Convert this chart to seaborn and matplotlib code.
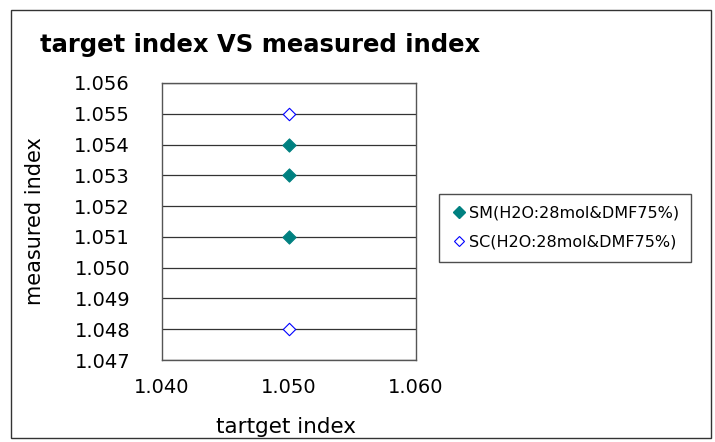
import matplotlib
matplotlib.use("Agg")
import matplotlib.pyplot as plt
import seaborn as sns
import pandas as pd
from matplotlib.patches import Rectangle
from matplotlib.lines import Line2D

sm_x = [1.050, 1.050, 1.050]
sm_y = [1.054, 1.053, 1.051]
sc_x = [1.050, 1.050]
sc_y = [1.055, 1.048]
series_names = ["SM(H2O:28mol&DMF75%)", "SC(H2O:28mol&DMF75%)"]
x_ticks = [1.040, 1.050, 1.060]
y_ticks = [1.047, 1.048, 1.049, 1.050, 1.051, 1.052, 1.053, 1.054, 1.055, 1.056]

df = pd.DataFrame({
    "x": sm_x + sc_x,
    "y": sm_y + sc_y,
    "series": [series_names[0]] * len(sm_x) + [series_names[1]] * len(sc_x),
})

sns.set_theme(style="white")
plt.rcParams['font.family'] = ['DejaVu Sans']
plt.rcParams.update({"text.color": "black", "axes.labelcolor": "black",
                     "xtick.color": "black", "ytick.color": "black"})

fig = plt.figure(figsize=(7.15, 4.42), dpi=100)
ax = fig.add_axes([162/715, 1-360/442, (416-162)/715, (360-83)/442])

sm = df[df.series == series_names[0]]
sc = df[df.series == series_names[1]]
sns.scatterplot(data=sm, x="x", y="y", ax=ax, marker="D", s=45, color="#008080",
                edgecolor="#008080", linewidth=0.8, zorder=3, legend=False)
sns.scatterplot(data=sc, x="x", y="y", ax=ax, marker="D", s=40, facecolor="white",
                edgecolor="#0000FF", linewidth=0.8, zorder=3, legend=False)

ax.set_xlim(1.040, 1.060)
ax.set_ylim(1.047, 1.056)
ax.set_xticks(x_ticks)
ax.set_yticks(y_ticks)
ax.set_xticklabels([f"{v:.3f}" for v in x_ticks], fontsize=14)
ax.set_yticklabels([f"{v:.3f}" for v in y_ticks], fontsize=14)
ax.tick_params(axis="x", direction="in", length=6, width=0.8, color="#333333", pad=13)
ax.tick_params(axis="y", length=0, pad=23)
ax.grid(axis="y", color="#333333", linewidth=0.9)
ax.grid(axis="x", visible=False)
for s in ax.spines.values():
    s.set_color("#555555")
    s.set_linewidth(1.0)
ax.set_xlabel("tartget index", fontsize=15.5)
ax.xaxis.set_label_coords(0.49, -(427-360)/277, transform=ax.transAxes)
ax.set_ylabel("measured index", fontsize=15)
ax.yaxis.set_label_coords(-(162-35)/254, 0.5, transform=ax.transAxes)
ax.xaxis.label.set_va("center")
ax.yaxis.label.set_va("center")

fig.text(40/715, 1-45/442, "target index VS measured index", fontsize=17.5,
         fontweight="bold", ha="left", va="center")

handles = [
    Line2D([], [], marker="D", linestyle="none", markersize=6, markerfacecolor="#008080",
           markeredgecolor="#008080"),
    Line2D([], [], marker="D", linestyle="none", markersize=5.5, markerfacecolor="white",
           markeredgecolor="#0000FF", markeredgewidth=0.8),
]
leg = fig.legend(handles, series_names, loc="upper left",
                 bbox_to_anchor=(439/715, 1-194/442), fontsize=11.5, frameon=True,
                 fancybox=False, handletextpad=0.1, labelspacing=0.85, borderpad=0.75,
                 handlelength=1.0, borderaxespad=0)
leg.get_frame().set_edgecolor("#222222")
leg.get_frame().set_linewidth(1.0)

fig.patches.append(Rectangle((11/715, 4/442), 700/715, 1-14/442, transform=fig.transFigure,
                             fill=False, edgecolor="#333333", linewidth=1.0))

fig.savefig("out.png", dpi=100)
